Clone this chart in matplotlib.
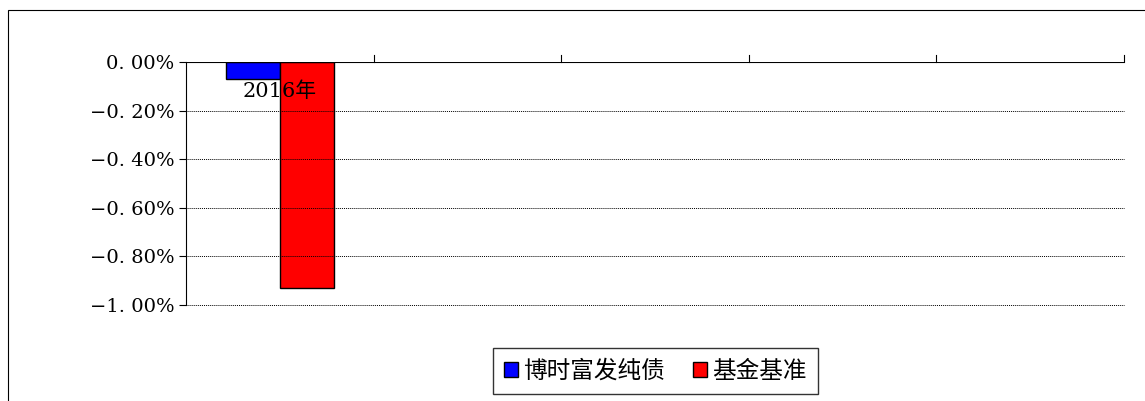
import matplotlib.pyplot as plt
from matplotlib.patches import Rectangle

plt.rcParams['font.family'] = ['DejaVu Serif', 'Noto Sans CJK SC']

categories = ['2016年', '', '', '', '']
fund = [-0.07, None, None, None, None]
bench = [-0.93, None, None, None, None]
yticks = [0.0, -0.2, -0.4, -0.6, -0.8, -1.0]
yticklabels = ['0. 00%', '\u22120. 20%', '\u22120. 40%', '\u22120. 60%', '\u22120. 80%', '\u22121. 00%']

fig = plt.figure(figsize=(11.45, 4.01), dpi=100)
fig.patches.append(Rectangle((8/1145, -0.1), 1.2, 1 - 10/401 + 0.1, transform=fig.transFigure,
                             fill=False, edgecolor='black', linewidth=0.8))
ax = fig.add_axes([186/1145, 1 - 305/401, (1124 - 186)/1145, 243/401])

w = 0.288
for i, (a, b) in enumerate(zip(fund, bench)):
    if a is not None:
        ax.bar(i + 0.5 - w/2, a, w, color='#0000ff', edgecolor='black', linewidth=1, label='博时富发纯债')
    if b is not None:
        ax.bar(i + 0.5 + w/2, b, w, color='#ff0000', edgecolor='black', linewidth=1, label='基金基准')

ax.set_xlim(0, 5)
ax.set_ylim(-1.0, 0.0)
ax.set_yticks(yticks)
ax.set_yticklabels(yticklabels, fontsize=14)
for y in yticks[1:]:
    ax.axhline(y, color='black', linestyle=(0, (1, 1)), linewidth=0.7, clip_on=False)
ax.axhline(0, color='black', linewidth=0.8, zorder=5)
ax.set_xticks([])
for x in range(1, 6):
    ax.plot([x, x], [0, 0.03], color='black', linewidth=0.8, clip_on=False)
for i, c in enumerate(categories):
    if c:
        ax.text(i + 0.5, -0.08, c, ha='center', va='top', fontsize=15)
for s in ['top', 'right', 'bottom']:
    ax.spines[s].set_visible(False)
ax.tick_params(axis='y', length=5)

ax.legend(loc='center', bbox_to_anchor=((655.5 - 186)/938, (1 - 371/401 - (1 - 305/401)) / (243/401)),
          ncol=2, frameon=True, fancybox=False, edgecolor='black', borderpad=0.5,
          handlelength=0.6, handleheight=0.6, handletextpad=0.2, columnspacing=1.2,
          prop={'family': ['Noto Sans CJK SC'], 'size': 17})

fig.savefig('out.png', dpi=100)
